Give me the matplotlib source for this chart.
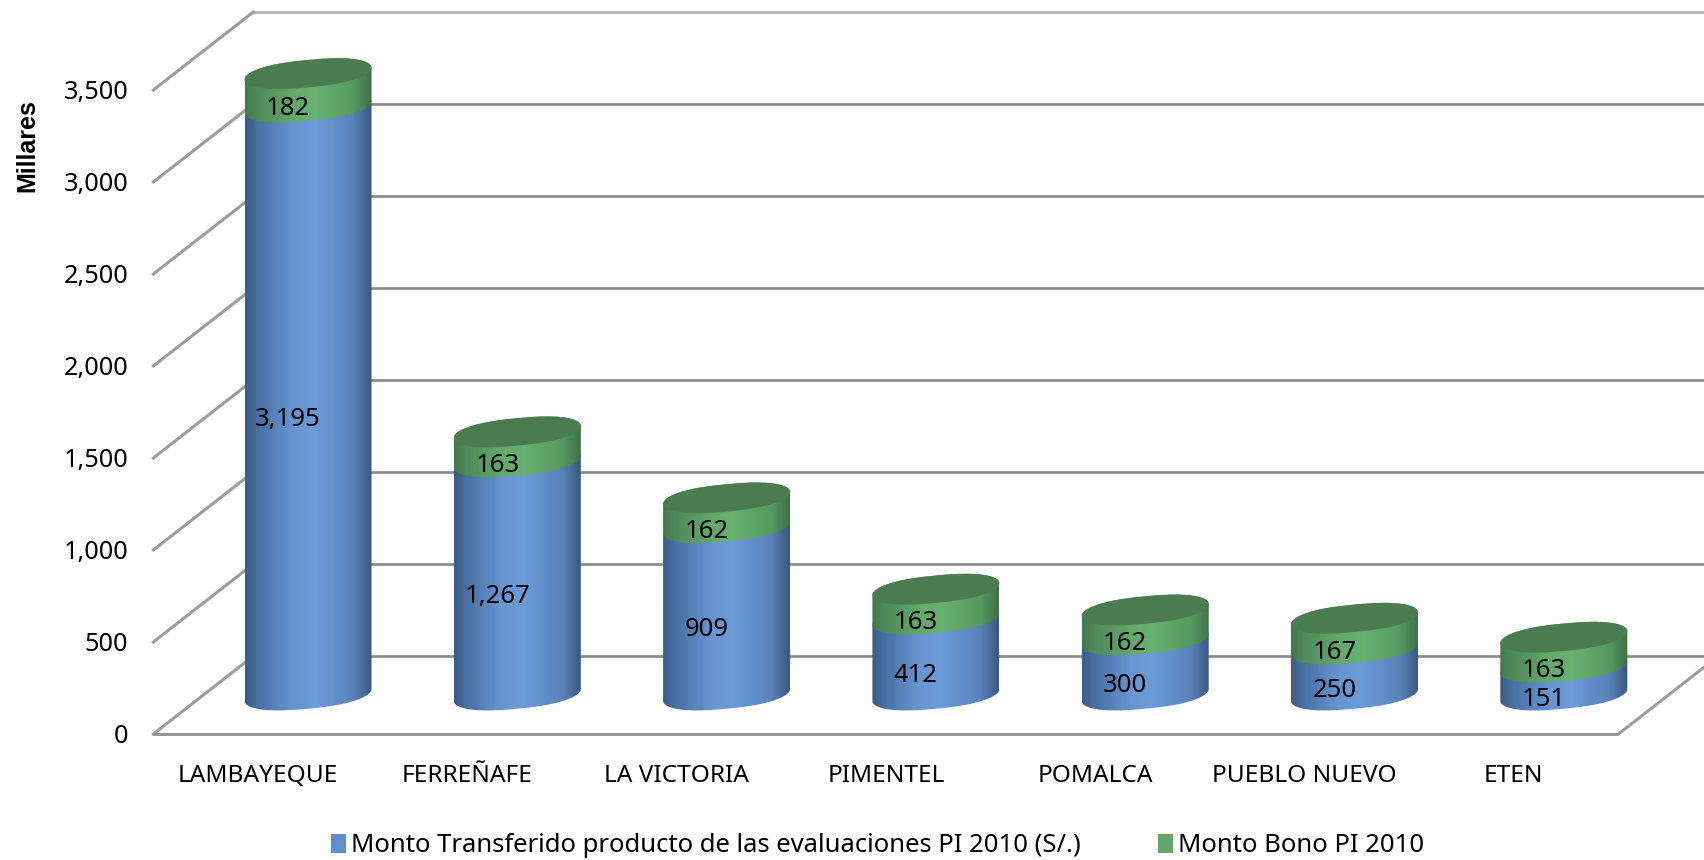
import numpy as np
import matplotlib
matplotlib.use('Agg')
import matplotlib.pyplot as plt
from matplotlib.patches import Patch, Polygon
from matplotlib.colors import LinearSegmentedColormap

categories = ['LAMBAYEQUE', 'FERREÑAFE', 'LA VICTORIA', 'PIMENTEL', 'POMALCA', 'PUEBLO NUEVO', 'ETEN']
transferido = [3195, 1267, 909, 412, 300, 250, 151]
bono = [182, 163, 162, 163, 162, 167, 163]
y_ticks = [0, 500, 1000, 1500, 2000, 2500, 3000, 3500]
legend_labels = ['Monto Transferido producto de las evaluaciones PI 2010 (S/.)', 'Monto Bono PI 2010']

W, H = 1704, 860
PX_X = 209.3       # pixels per category
PX_Y = 0.184       # pixels per unit
X0, Y0 = 308, 695  # pixel position of the first cylinder base
DX = 50 / PX_X     # half of the chart depth
DY = 39 / PX_Y
TXT = 2.5 / PX_Y   # text sits a bit lower than the center

plt.rcParams['font.family'] = ['Noto Sans', 'DejaVu Sans']
fig = plt.figure(figsize=(W / 100, H / 100), dpi=100)
ax = fig.add_axes([0, 0, 1, 1])
ax.axis('off')

blue = LinearSegmentedColormap.from_list('blue', [(0, '#3c5c88'), (0.1, '#4a70a3'), (0.38, '#6795d2'), (0.55, '#6b9bd8'),
                                                  (0.85, '#5a83ba'), (1, '#3b5880')])
green = LinearSegmentedColormap.from_list('green', [(0, '#43784c'), (0.1, '#4f8a5a'), (0.38, '#63a96c'), (0.55, '#68b170'),
                                                    (0.85, '#569a62'), (1, '#3f7049')])
grad = np.linspace(0, 1, 256).reshape(1, -1)

A = 63.5 / PX_X
B = 13.7 / PX_Y
TILT = 6 / PX_Y


def arc(cx, cy, t0, t1):
    # slightly blunt ellipse, sheared so that the right end sits higher
    t = np.linspace(t0, t1, 80)
    c = np.sign(np.cos(t)) * np.abs(np.cos(t)) ** 0.8
    return np.column_stack([cx + A * c, cy + B * np.sin(t) + TILT * c])


def segment(cx, low, high, cmap, zorder):
    # front arc of the lower rim, then back arc of the upper rim
    pts = np.vstack([arc(cx, low, np.pi, 2 * np.pi), arc(cx, high, 0, np.pi)])
    poly = Polygon(pts, closed=True, fc='none', ec='none', transform=ax.transData)
    ax.add_patch(poly)
    im = ax.imshow(grad, cmap=cmap, aspect='auto', zorder=zorder, interpolation='bilinear',
                   extent=[cx - A, cx + A, low - B - TILT, high + B + TILT])
    im.set_clip_path(poly)


# walls and floor
for v in y_ticks:
    c = '#b4b4b4' if v == y_ticks[-1] else '#8e8e8e'
    ax.plot([-0.5 + DX, 6.5 + DX], [v + DY, v + DY], color=c, lw=2, zorder=1, solid_capstyle='butt')
    ax.plot([-0.5 - DX, -0.5 + DX], [v - DY, v + DY], color='#9c9c9c', lw=2.2, zorder=1)
    ax.text(-0.5 - DX - 25 / PX_X, v - DY - TXT, f'{v:,}', ha='right', va='center', fontsize=18.2, color='black')
ax.plot([-0.5 - DX, 6.5 - DX], [-DY, -DY], color='#8e8e8e', lw=2, zorder=1, solid_capstyle='butt')
ax.plot([6.5 - DX, 6.5 + DX], [-DY, DY], color='#9c9c9c', lw=2.2, zorder=1)

for i, name in enumerate(categories):
    a, b = transferido[i], bono[i]
    segment(i, 0, a, blue, 2)
    segment(i, a, a + b, green, 3)
    top = Polygon(arc(i, a + b, 0, 2 * np.pi), closed=True, fc='#4a7c50', ec='none', zorder=4)
    ax.add_patch(top)
    lx = i - 20 / PX_X
    ax.text(lx, a / 2 - 16 / PX_Y - TXT, f'{a:,}', ha='center', va='center', fontsize=18.5, color='black', zorder=5)
    ax.text(lx, a + b / 2 - 16 / PX_Y - TXT, f'{b:,}', ha='center', va='center', fontsize=18.5, color='black', zorder=5)
    ax.text(i - DX, -DY - 39 / PX_Y - TXT, name, ha='center', va='center', fontsize=17.6, color='black')

ax.text(27 / W, 1 - 146 / H, 'Millares', transform=ax.transAxes, rotation=90, ha='center', va='center',
        fontsize=18, fontweight='bold', color='black', family='Liberation Sans')

handles = [Patch(fc='#6090cc', ec='none'), Patch(fc='#62a66a', ec='none')]
ax.legend(handles, legend_labels, ncol=2, loc='center left', bbox_to_anchor=(331 / W, 1 - 846 / H),
          frameon=False, fontsize=18.5, handlelength=0.58, handleheight=0.8, handletextpad=0.2,
          columnspacing=3.0, borderpad=0, borderaxespad=0)

ax.set_xlim(-X0 / PX_X, (W - X0) / PX_X)
ax.set_ylim((Y0 - H) / PX_Y, Y0 / PX_Y)
fig.savefig('out.png', dpi=100)
